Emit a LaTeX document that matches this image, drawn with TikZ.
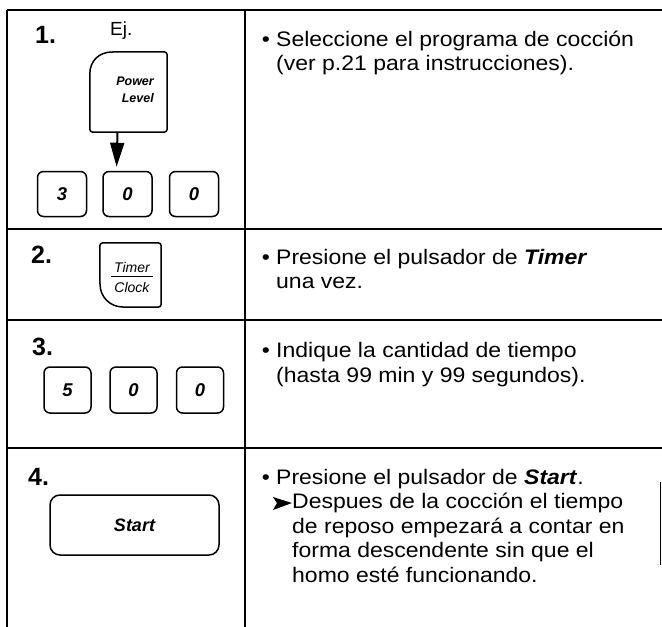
\documentclass[tikz,border=0pt]{standalone}
\usepackage{fontspec}
\setmainfont{Liberation Sans}
\newfontfamily\bodyf[FakeStretch=1.095]{Liberation Sans}
\usetikzlibrary{arrows.meta,calc}
\tikzset{
  rule/.style={line width=1.8pt},
  keyline/.style={line width=1.5pt},
  digitkey/.style={draw, keyline, rounded corners=6pt, minimum width=49pt, minimum height=45pt, inner sep=0pt,
    font=\fontsize{18.5}{18.5}\selectfont\bfseries\itshape},
  body/.style={inner sep=0pt, anchor=base west, font=\bodyf\fontsize{21}{24.5}\selectfont},
  stepnum/.style={inner sep=0pt, anchor=base west, font=\fontsize{25}{25}\selectfont\bfseries},
  arr/.style={line width=2pt, -{Triangle[length=24pt,width=14pt]}},
}
\begin{document}
\begin{tikzpicture}[x=1pt,y=-1pt]
\useasboundingbox (0,0) rectangle (662,627);
% frame
\draw[rule] (7,10) -- (662,10);
\draw[rule] (7,10) -- (7,627);
\draw[rule] (245,10) -- (245,627);
\draw[rule] (7,229) -- (662,229);
\draw[rule] (7,320) -- (662,320);
\draw[rule] (7,448) -- (662,448);
\draw[line width=1.5pt] (660.5,482) -- (660.5,565);

% step numbers
\node[stepnum] (n1) at (35,43) {1.};
\node[stepnum] (n2) at (31,263) {2.};
\node[stepnum] (n3) at (32,355) {3.};
\node[stepnum] (n4) at (28,485) {4.};
\node[inner sep=0pt, anchor=base west, font=\fontsize{19}{19}\selectfont] (ej) at (110,35) {Ej.};

% Power Level key
\node[minimum width=77pt, minimum height=80pt, inner sep=0pt] (pw) at (128.5,92) {};
\draw[keyline] (pw.west |- 0,74) .. controls (pw.west |- 0,61) and (99,52) .. (112,52)
  [rounded corners=3pt] -- (pw.north east) -- (pw.south east) -- (pw.south west) -- (pw.west |- 0,74);
\node[inner sep=0pt, anchor=base east, font=\fontsize{12.5}{12.5}\selectfont\bfseries\itshape] (pwa) at (154,85) {Power};
\node[inner sep=0pt, anchor=base east, font=\fontsize{12.5}{12.5}\selectfont\bfseries\itshape] (pwb) at (154,102) {Level};

% row 1 keys
\node[digitkey] (k1) at (62,194) {3};
\node[digitkey] (k2) at (127.5,194) {0};
\node[digitkey] (k3) at (194,194) {0};
\draw[arr, shorten >=4pt] ([xshift=-11pt]pw.south) -- ([xshift=-11pt]k2.north);

% Timer / Clock key
\node[minimum width=61pt, minimum height=64pt, inner sep=0pt] (tc) at (130.5,275) {};
\draw[keyline] (123,307) .. controls (110,307) and (100,297) .. (100,284)
  [rounded corners=3pt] -- (tc.north west) -- (tc.north east) -- (tc.south east) -- (123,307);
\node[inner sep=0pt, anchor=base, font=\fontsize{14}{14}\selectfont\itshape] (tma) at (132,272) {Timer};
\node[inner sep=0pt, anchor=base, font=\fontsize{14}{14}\selectfont\itshape] (tmb) at (132,292) {Clock};
\draw[line width=1pt] (111,276.5) -- (153,276.5);

% row 3 keys
\node[digitkey, minimum width=47pt, minimum height=46pt] (k4) at (67.5,390) {5};
\node[digitkey, minimum width=47pt, minimum height=46pt] (k5) at (133.5,390) {0};
\node[digitkey, minimum width=47pt, minimum height=46pt] (k6) at (200,390) {0};

% Start key
\node[draw, keyline, rounded corners=10pt, minimum width=169pt, minimum height=60pt, inner sep=0pt,
  font=\fontsize{18}{18}\selectfont\bfseries\itshape] (st) at (134.5,525) {Start};

% right column texts
\node[body, anchor=base] (b1) at (266,46) {•};
\node[body] (t1a) at (276,46) {Seleccione el programa de cocción};
\node[body] (t1b) at (276,70.5) {(ver p.21 para instrucciones).};

\node[body, anchor=base] (b2) at (266,264) {•};
\node[body] (t2a) at (276,264) {Presione el pulsador de \textbf{\textit{Timer}}};
\node[body] (t2b) at (276,288.5) {una vez.};

\node[body, anchor=base] (b3) at (266,357) {•};
\node[body] (t3a) at (276,357) {Indique la cantidad de tiempo};
\node[body] (t3b) at (276,382) {(hasta 99 min y 99 segundos).};

\node[body, anchor=base] (b4) at (266,484) {•};
\node[body] (t4a) at (276,484) {Presione el pulsador de \textbf{\textit{Start}}.};
\fill (273,497) -- (292,503) -- (273,510) -- (277,503) -- cycle;
\node[body] (t4b) at (292,508.5) {Despues de la cocción el tiempo};
\node[body] (t4c) at (292,533) {de reposo empezará a contar en};
\node[body] (t4d) at (292,557.5) {forma descendente sin que el};
\node[body] (t4e) at (292,582) {homo esté funcionando.};
\end{tikzpicture}
\end{document}
